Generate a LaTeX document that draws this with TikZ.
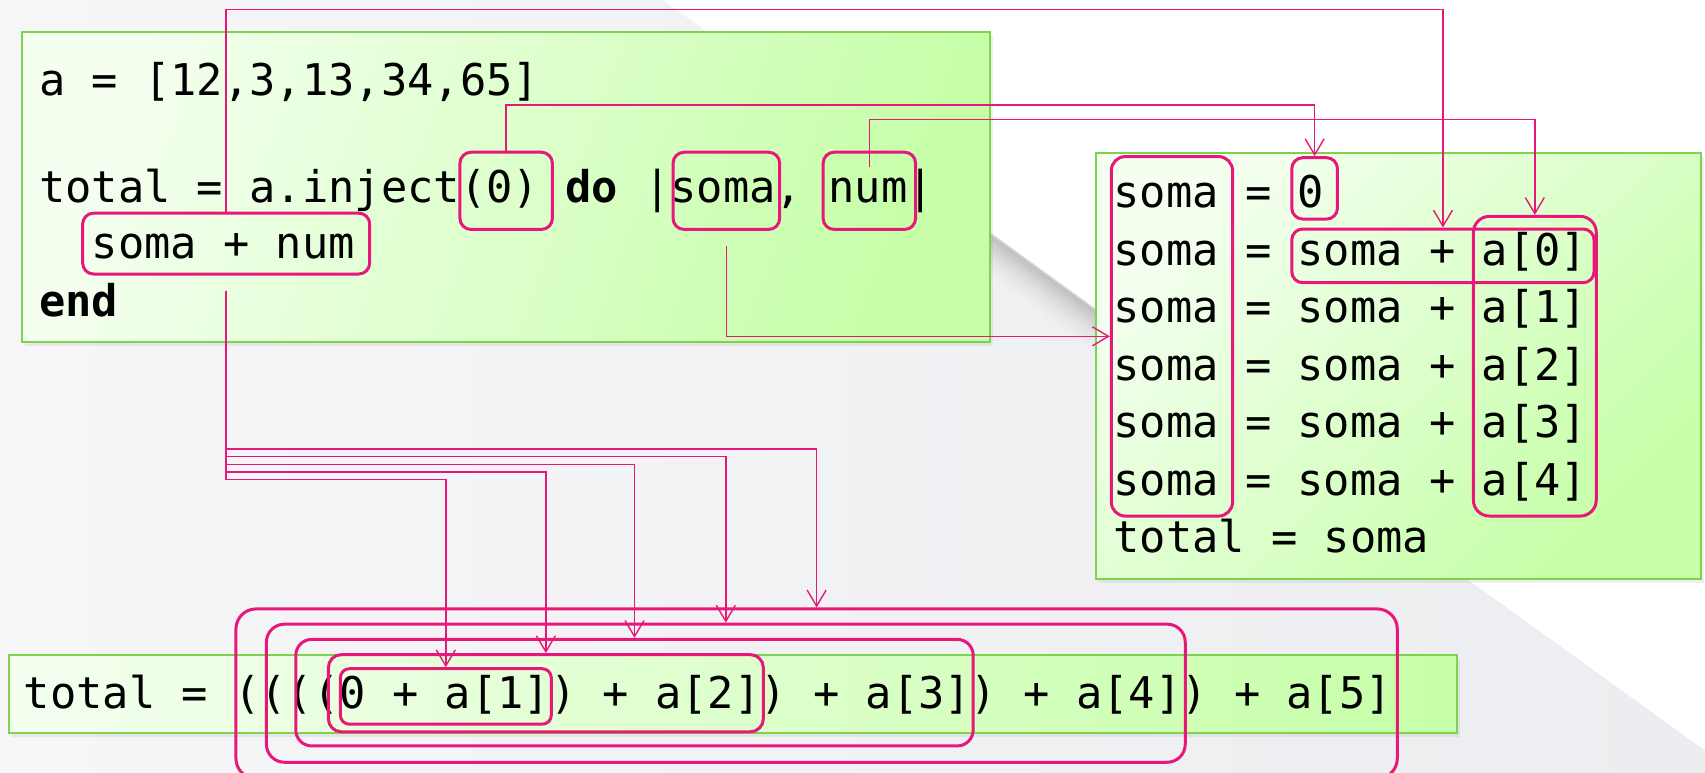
\documentclass[tikz,border=0pt]{standalone}
\usepackage{fontspec}
\setmonofont{DejaVu Sans Mono}
\usetikzlibrary{fit,arrows.meta,shadows,calc}
\definecolor{pk}{RGB}{232,24,122}
\definecolor{gb}{RGB}{126,211,78}
\definecolor{gl}{RGB}{244,255,240}
\definecolor{gr}{RGB}{198,255,168}
\definecolor{bgl}{RGB}{246,246,248}
\definecolor{bgr}{RGB}{236,237,240}
\begin{document}
\begin{tikzpicture}[x=1.08737pt,y=-1.08737pt,
  gbox/.style={draw=gb,line width=2pt,left color=gl,right color=gr,inner sep=0pt,
    drop shadow={opacity=0.12,shadow xshift=3pt,shadow yshift=-4pt}},
  txt/.style={font=\ttfamily\frenchspacing\fontsize{43.7}{52}\selectfont,anchor=base west,inner sep=0pt,outer sep=0pt},
  hl/.style={draw=pk,line width=3pt,rounded corners=11pt,inner sep=0pt},
  conn/.style={draw=pk,line width=1.4pt,-{Straight Barb[length=16pt,width=19pt]}},
  lead/.style={draw=pk,line width=1.4pt}]
\useasboundingbox (0,0) rectangle (1568,710.87);
\clip (0,0) rectangle (1568,710.87);
% background
\shade[left color=bgl,right color=bgr] (0,0) rectangle (1568,710.87);
\fill[white] (610,0) -- (1568,0) -- (1568,690) -- cycle;
\foreach \d in {0,2,...,44}{
  \pgfmathsetmacro\op{0.16*(1-\d/46)^2}
  \draw[line width=2.3pt,black,opacity=\op] (905,211+\d) -- (1010,287+\d);
}
% green boxes
\node[gbox,shading angle=70,fit={(20.5,29) (910,314.5)}] (codebox) {};
\node[gbox,shading angle=45,fit={(1008,140.5) (1564,532.7)}] (stepbox) {};
\node[gbox,fit={(8,602) (1340,674)}] (resbox) {};
% code text
\node[txt] (l1) at (36,87.4) {a = [12,3,13,34,65]};
\node[txt] (l2) at (36,186) {total = a.inject(0) \textbf{do} |soma, num|};
\node[txt] (l3) at (84.4,238) {soma + num};
\node[txt] (l4) at (36,291) {\textbf{end}};
% steps text
\node[txt] (r1) at (1024,191) {soma = 0};
\node[txt] (r2) at (1024,244) {soma = soma + a[0]};
\node[txt] (r3) at (1024,297) {soma = soma + a[1]};
\node[txt] (r4) at (1024,349.5) {soma = soma + a[2]};
\node[txt] (r5) at (1024,402.5) {soma = soma + a[3]};
\node[txt] (r6) at (1024,455.5) {soma = soma + a[4]};
\node[txt] (r7) at (1024,508.5) {total = soma};
% result text
\node[txt] (res) at (22,651.5) {total = ((((0 + a[1]) + a[2]) + a[3]) + a[4]) + a[5]};
% highlight boxes
\node[hl,fit={(76,196) (340,252)}] (sn) {};
\node[hl,fit={(423,140) (508,211)}] (z0) {};
\node[hl,fit={(619,140) (717,211)}] (sm) {};
\node[hl,fit={(757,140) (842,211)}] (nm) {};
\node[hl,rounded corners=14pt,fit={(1022,144) (1133.5,474.6)}] (scol) {};
\node[hl,fit={(1188,145) (1230,201.5)}] (zr) {};
\node[hl,fit={(1188,210.6) (1466,260)}] (sa0) {};
\node[hl,rounded corners=16pt,fit={(1355,199) (1468,474.6)}] (acol) {};
\node[hl,rounded corners=20pt,fit={(217,560) (1285,716)}] (bo1) {};
\node[hl,rounded corners=18pt,fit={(245,574) (1090,701)}] (bo2) {};
\node[hl,rounded corners=16pt,fit={(272,588) (895,686)}] (bo3) {};
\node[hl,rounded corners=13pt,fit={(302,602) (702,673)}] (bo4) {};
\node[hl,rounded corners=9pt,fit={(313,615) (507,666)}] (bo5) {};
% helper levels
\coordinate (y1) at (0,8.6);
\coordinate (y2) at (0,96.6);
\coordinate (y3) at (0,110);
\coordinate (st) at ($(sn.south)+(0,14)$);
\coordinate (b1) at (0,413);
\coordinate (b2) at (0,420);
\coordinate (b3) at (0,427);
\coordinate (b4) at (0,434);
\coordinate (b5) at (0,441);
% connectors
\draw[conn] (sn.north) |- (y1 -| sa0.north) -- (sa0.north);
\draw[conn] (z0.north) |- (y2 -| zr.north) -- (zr.north);
\draw[conn] ($(nm.north)+(0,15)$) |- (y3 -| acol.north) -- (acol.north);
\draw[conn] ($(sm.south)+(0,13.5)$) |- (scol.west);
\draw[conn] (st) |- (b1 -| bo1.north) -- (bo1.north);
\draw[conn] (st) |- (b2 -| bo2.north) -- (bo2.north);
\draw[conn] (st) |- (b3 -| bo3.north) -- (bo3.north);
\draw[conn] (st) |- (b4 -| bo4.north) -- (bo4.north);
\draw[conn] (st) |- (b5 -| bo5.north) -- (bo5.north);
\end{tikzpicture}
\end{document}
